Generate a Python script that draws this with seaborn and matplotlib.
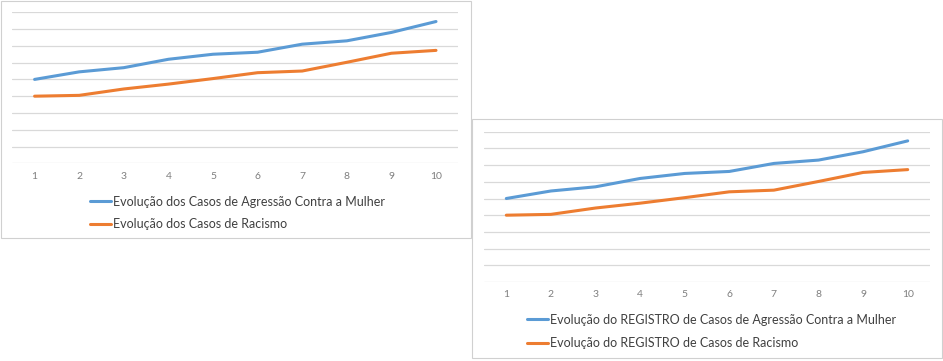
import pandas as pd
import seaborn as sns
import matplotlib.pyplot as plt
from matplotlib.patches import Rectangle

# Dados (mesmos valores nos dois paineis)
periodos = list(range(1, 11))
agressao = [5.0, 5.45, 5.7, 6.2, 6.5, 6.62, 7.1, 7.3, 7.8, 8.45]
racismo = [4.0, 4.05, 4.43, 4.72, 5.05, 5.4, 5.5, 6.02, 6.56, 6.73]

labels_esq = ["Evolução dos Casos de Agressão Contra a Mulher",
              "Evolução dos Casos de Racismo"]
labels_dir = ["Evolução do REGISTRO de Casos de Agressão Contra a Mulher",
              "Evolução do REGISTRO de Casos de Racismo"]

AZUL = '#5B9BD5'
LARANJA = '#ED7D31'
GRADE = '#D9D9D9'
TEXTO = '#404040'
TICKS = '#7F7F7F'

sns.set_theme(style='white')
plt.rcParams['font.family'] = ['Lato', 'DejaVu Sans']

W, H = 943, 361
fig = plt.figure(figsize=(W / 100, H / 100), dpi=100)


def px_box(x0, y0, x1, y1):
    # converte caixa em pixels (origem no topo) para fracao da figura
    return [x0 / W, (H - y1) / H, (x1 - x0) / W, (y1 - y0) / H]


def desenha(rect, labels, leg_xy, espaco):
    ax = fig.add_axes(rect)
    ax.patch.set_alpha(0)
    df = pd.DataFrame({
        'periodo': periodos * 2,
        'valor': agressao + racismo,
        'serie': [labels[0]] * len(periodos) + [labels[1]] * len(periodos),
    })
    sns.lineplot(data=df, x='periodo', y='valor', hue='serie',
                 palette=[AZUL, LARANJA], linewidth=2.2, ax=ax)
    ax.set_xlim(0.5, 10.5)
    ax.set_ylim(0, 9)
    ax.set_yticks(range(0, 10))
    ax.set_xticks(periodos)
    ax.yaxis.grid(True, color=GRADE, linewidth=0.9)
    ax.set_yticklabels([])
    ax.tick_params(axis='x', length=0, pad=6, labelsize=7.5, labelcolor=TICKS)
    ax.tick_params(axis='y', length=0)
    ax.set_xlabel('')
    ax.set_ylabel('')
    for s in ax.spines.values():
        s.set_visible(False)
    handles, labs = ax.get_legend_handles_labels()
    ax.legend(handles, labs, loc='upper left',
              bbox_to_anchor=(leg_xy[0] / W, 1 - leg_xy[1] / H),
              bbox_transform=fig.transFigure, frameon=False,
              fontsize=9, handlelength=1.65, handletextpad=0.2,
              labelspacing=espaco, borderpad=0, borderaxespad=0,
              labelcolor=TEXTO)
    return ax


# molduras dos dois graficos
for box in [(1, 1, 471, 238), (472, 119, 942, 358)]:
    fig.patches.append(Rectangle((box[0] / W, (H - box[3]) / H),
                                 (box[2] - box[0]) / W, (box[3] - box[1]) / H,
                                 transform=fig.transFigure, facecolor='white',
                                 edgecolor='#D0D0D0', linewidth=0.8, zorder=-1))

desenha(px_box(12.3, 12.3, 458.3, 163.3), labels_esq, (90, 195.5), 0.83)
desenha(px_box(484, 131.7, 930, 282), labels_dir, (527, 313.5), 0.95)

fig.savefig('out.png', dpi=100)
